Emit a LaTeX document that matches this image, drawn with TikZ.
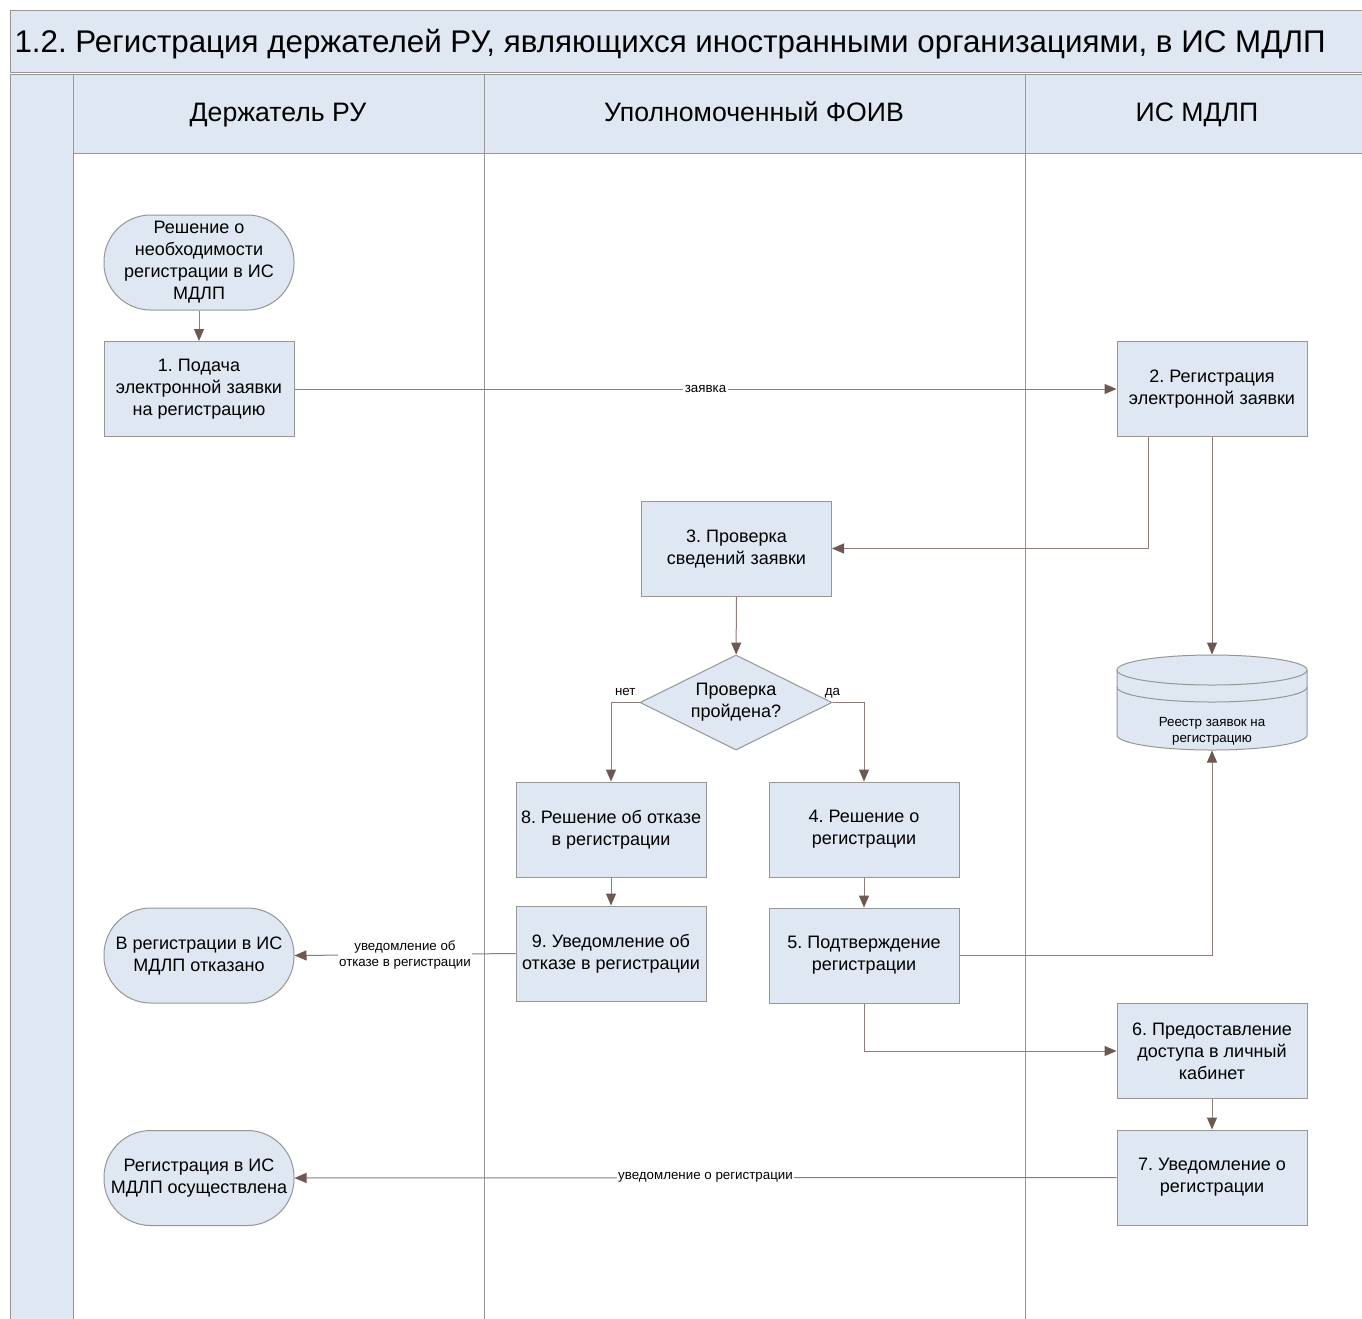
\documentclass[tikz,border=0pt]{standalone}
\usepackage{fontspec}
\setmainfont{Liberation Sans}
\usetikzlibrary{shapes.geometric,arrows.meta}
\definecolor{lanefill}{RGB}{222,231,242}
\definecolor{laneline}{RGB}{150,150,150}
\definecolor{connline}{RGB}{140,125,120}
\definecolor{arrowtip}{RGB}{110,88,82}
\frenchspacing

\begin{document}
\begin{tikzpicture}[x=0.75pt, y=-0.75pt, line width=0.75pt,
        every node/.style={font=\fontsize{13.5}{16.5}\selectfont, align=center, inner sep=0pt},
        procbox/.style={draw=laneline, fill=lanefill, minimum width=142.5pt, minimum height=71.25pt},
        termbox/.style={procbox, rounded corners=35pt},
        decbox/.style={draw=laneline, fill=lanefill, diamond, aspect=2, minimum width=144pt, minimum height=71.25pt},
        lanehead/.style={font=\fontsize{20}{24}\selectfont, anchor=base},
        conn/.style={draw=connline, -{Triangle[length=9pt, width=7.5pt, color=arrowtip]}},
        lbl/.style={font=\fontsize{10}{12}\selectfont, fill=white, inner sep=1pt}]
                \useasboundingbox (0, 0) rectangle (1362, 1318);
                \fill[white] (0, 0) rectangle (1362, 1318);
                % title bar, pool strip and lane headers
                \draw[laneline, fill=lanefill] (10, 10) rectangle (1370, 72);
                \draw[laneline, fill=lanefill] (10, 74) rectangle (73, 1330);
                \draw[laneline, fill=lanefill] (73, 74) rectangle (1370, 153);
                \foreach \x in {484, 1025} {
                        \draw[laneline] (\x, 74) -- (\x, 1330);
                }
                \node[anchor=base west, font=\fontsize{23.5}{28}\selectfont] (title) at (14, 52) {1.2. Регистрация держателей РУ, являющихся иностранными организациями, в ИС МДЛП};
                \node[lanehead] (laneholder) at (278, 121) {Держатель РУ};
                \node[lanehead] (lanefoiv) at (754, 121) {Уполномоченный ФОИВ};
                \node[lanehead] (lanemdlp) at (1197, 121) {ИС МДЛП};

                % steps
                \node[termbox] (start) at (199, 262.5) {Решение о\\необходимости\\регистрации в ИС\\МДЛП};
                \node[procbox] (n1) at (199, 389) {1. Подача\\электронной заявки\\на регистрацию};
                \node[procbox] (n2) at (1212, 389) {2. Регистрация\\электронной заявки};
                \node[procbox] (n3) at (736.5, 548.5) {3. Проверка\\сведений заявки};
                \node[decbox] (dec) at (736, 702.5) {Проверка\\пройдена?};
                \node[procbox] (n8) at (611, 829.5) {8. Решение об отказе\\в регистрации};
                \node[procbox] (n4) at (864, 829.5) {4. Решение о\\регистрации};
                \node[procbox] (n9) at (611, 953.5) {9. Уведомление об\\отказе в регистрации};
                \node[procbox] (n5) at (864, 955.5) {5. Подтверждение\\регистрации};
                \node[termbox] (end2) at (199, 955.5) {В регистрации в ИС\\МДЛП отказано};
                \node[procbox] (n6) at (1212, 1051) {6. Предоставление\\доступа в личный\\кабинет};
                \node[procbox] (n7) at (1212, 1177.5) {7. Уведомление о\\регистрации};
                \node[termbox] (end1) at (199, 1178) {Регистрация в ИС\\МДЛП осуществлена};

                % register store
                \node[minimum width=142.5pt, minimum height=71.25pt] (db) at (1212, 702.5) {};
                \draw[laneline, fill=lanefill] (1117, 670) -- (1117, 735)
                        arc[start angle=180, end angle=360, x radius=71.25pt, y radius=11.25pt] -- (1307, 670)
                        arc[start angle=0, end angle=180, x radius=71.25pt, y radius=11.25pt] -- cycle;
                \draw[laneline] (1117, 670) arc[start angle=180, end angle=360, x radius=71.25pt, y radius=11.25pt];
                \draw[laneline] (1117, 687) arc[start angle=180, end angle=360, x radius=71.25pt, y radius=11.25pt];
                \node[font=\fontsize{10}{12}\selectfont] (dblabel) at (1212, 731) {Реестр заявок на\\регистрацию};

                % connectors
                \draw[conn] (start) -- (n1);
                \draw[conn] (n1) -- node[lbl] {заявка} (n2);
                \draw[conn] ([xshift=-48pt]n2.south) |- (n3.east);
                \draw[conn] (n2) -- (db.north);
                \draw[conn] (n3) -- (dec);
                \draw[conn] (dec.west) -| node[lbl, above, pos=0.25, yshift=4pt, fill=none] {нет} (n8.north);
                \draw[conn] (dec.east) -| node[lbl, above, pos=0, yshift=2pt, fill=none] {да} (n4.north);
                \draw[conn] (n8) -- (n9);
                \draw[conn] (n4) -- (n5);
                \draw[conn] (n5.east) -| (db.south);
                \draw[conn] (n9.west) -- node[lbl] {уведомление об\\отказе в регистрации} (end2.east);
                \draw[conn] (n5.south) |- (n6.west);
                \draw[conn] (n6) -- (n7);
                \draw[conn] (n7) -- node[lbl] {уведомление о регистрации} (end1);
        \end{tikzpicture}
\end{document}
